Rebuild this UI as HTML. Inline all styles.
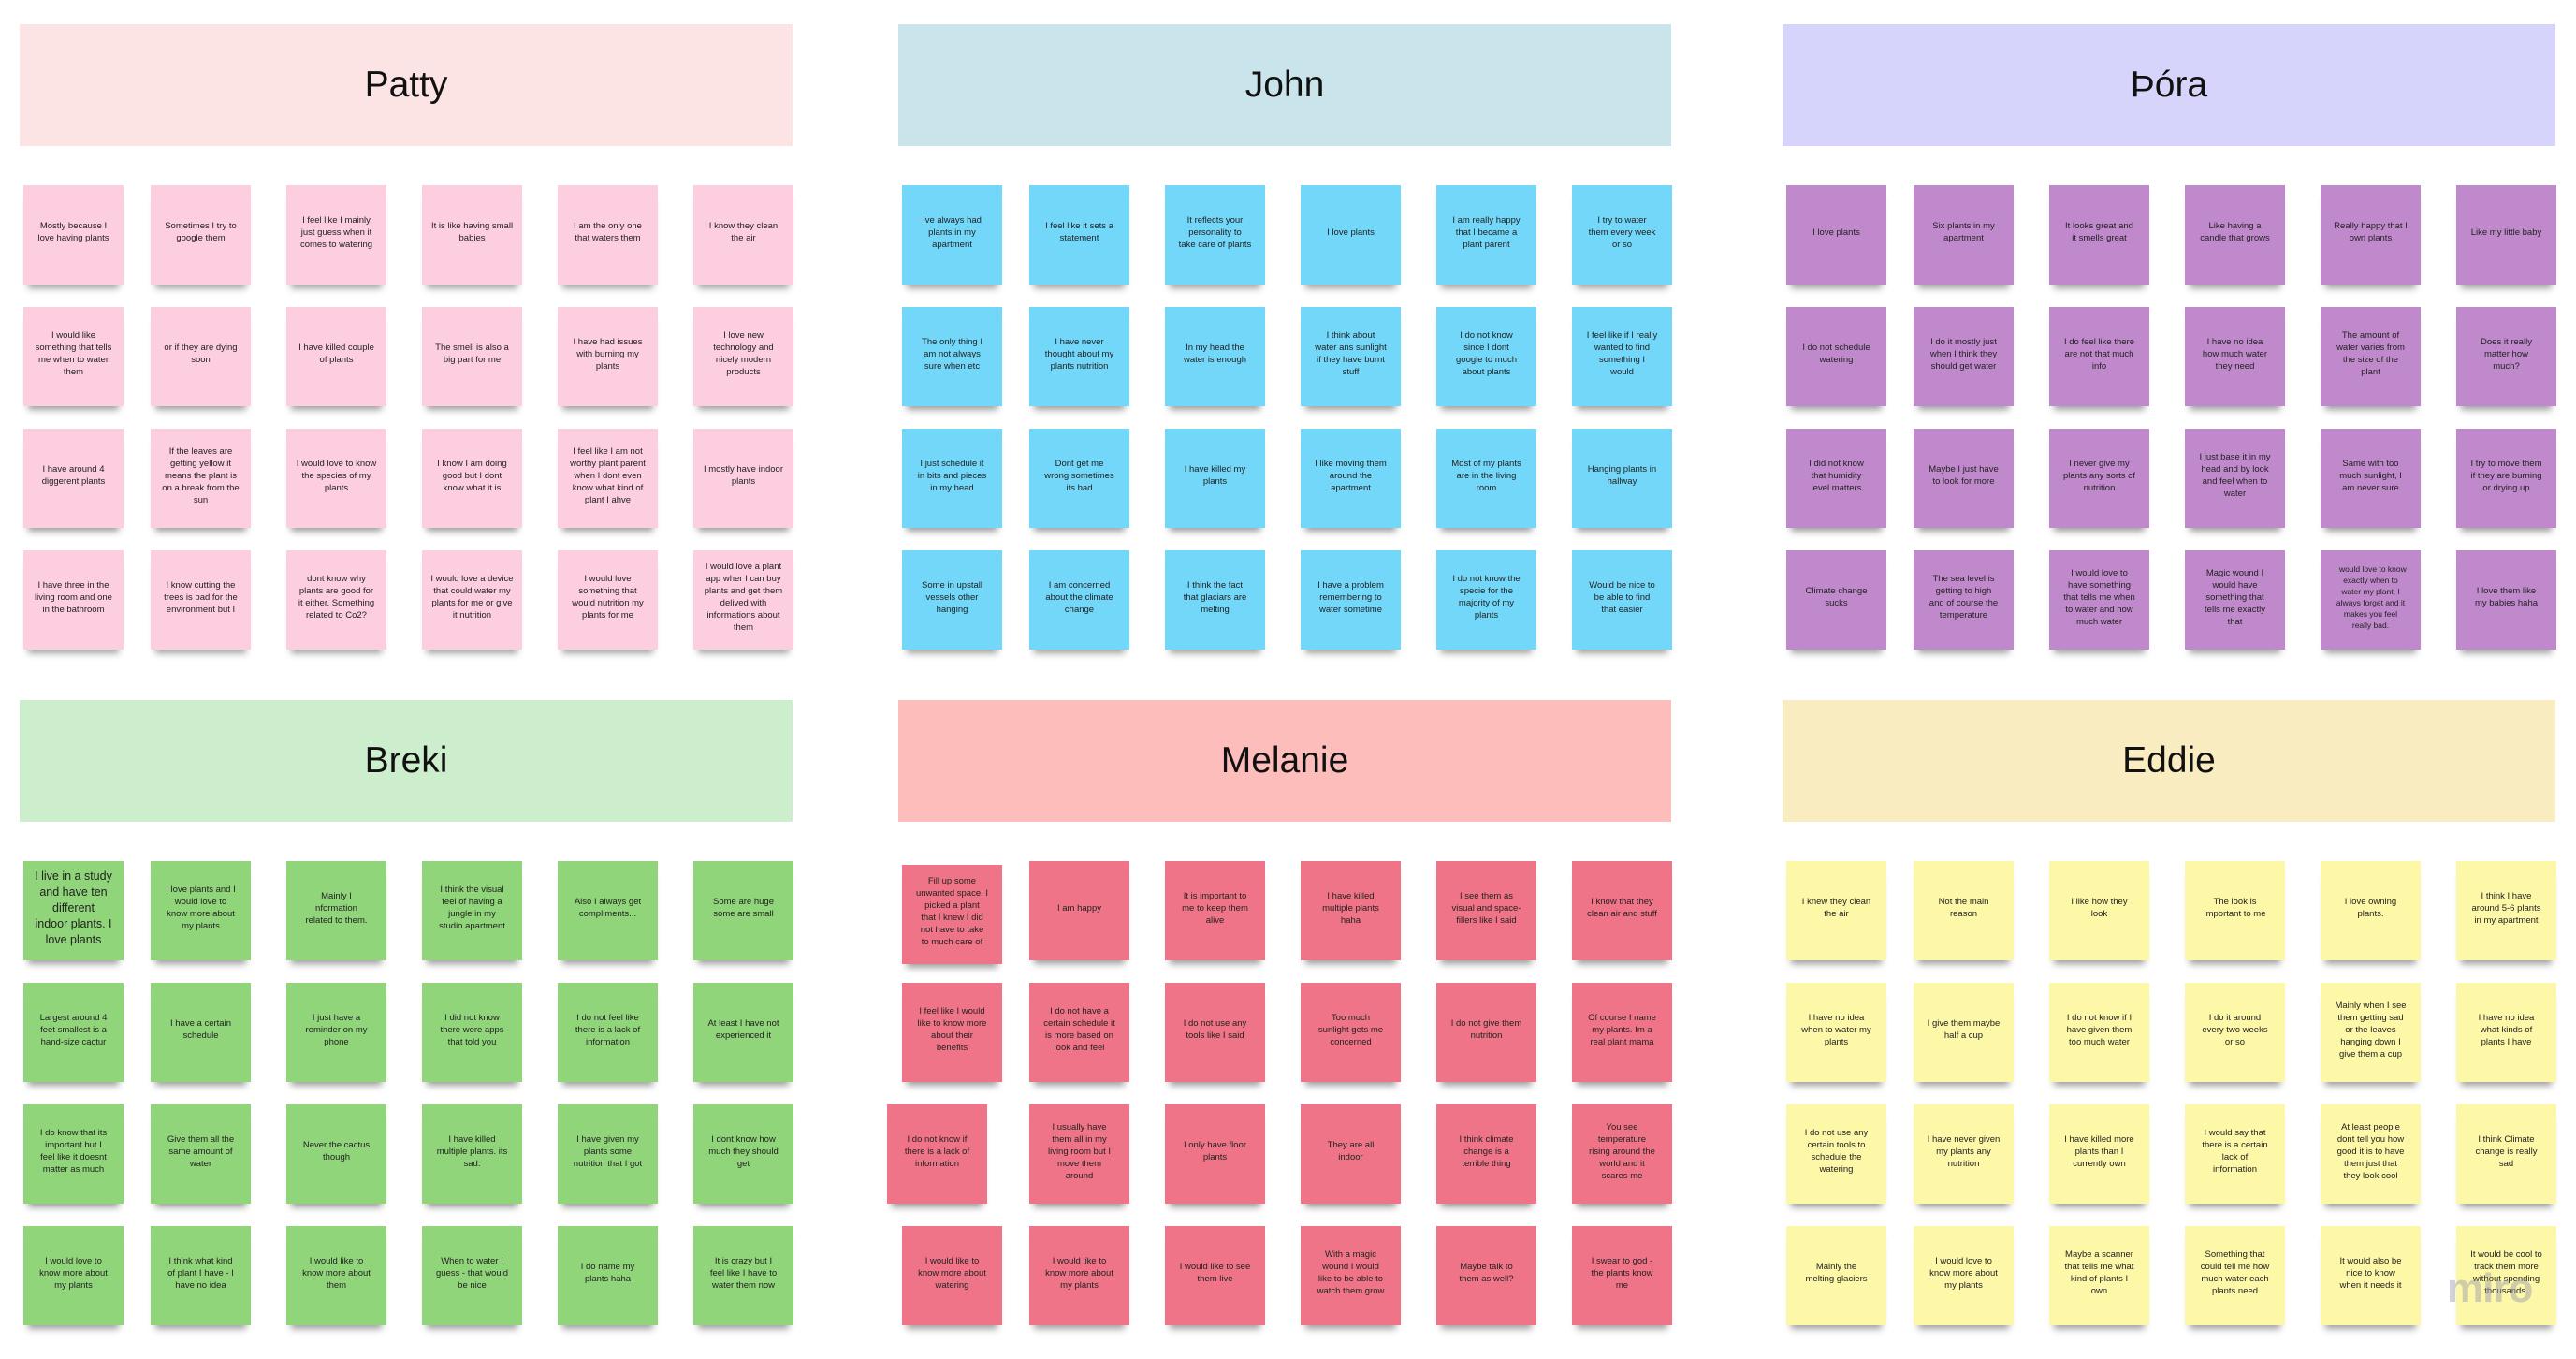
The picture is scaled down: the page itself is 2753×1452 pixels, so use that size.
<!DOCTYPE html>
<html><head><meta charset="utf-8">
<style>
*{margin:0;padding:0;box-sizing:border-box}
html,body{width:2753px;height:1452px;background:#fff;overflow:hidden;font-family:"Liberation Sans",sans-serif;color:#222}
.sec{position:absolute;width:826px;height:700px}
.h{position:absolute;left:0;top:0;width:826px;height:130px;display:flex;align-items:center;justify-content:center;font-size:39px;color:#111}
.g{position:absolute;left:0;top:172px;width:830px;height:520px}
.g>div{position:absolute;width:107px;height:106px;display:flex;align-items:center;justify-content:center;text-align:center;font-size:9.5px;line-height:13px;padding:0 4px 6px;box-shadow:0 9px 7px -5px rgba(0,0,0,.38)}
.g>div:nth-child(6n+1){left:4px}.g>div:nth-child(6n+2){left:140px}.g>div:nth-child(6n+3){left:285px}
.g>div:nth-child(6n+4){left:430px}.g>div:nth-child(6n+5){left:575px}.g>div:nth-child(6n+6){left:720px}
.g>div{top:0}.g>div:nth-child(n+7){top:130px}.g>div:nth-child(n+13){top:260px}.g>div:nth-child(n+19){top:390px}
.pa .h{background:#fde4e4}.pa .g>div{background:#fdcde0}
.jo .h{background:#c9e5eb}.jo .g>div{background:#72d7f9}
.th .h{background:#d7d4fc}.th .g>div{background:#c089cc}
.br .h{background:#cdeecd}.br .g>div{background:#90d57a}
.me .h{background:#fdbdbb}.me .g>div{background:#f07487}
.ed .h{background:#f8ecc0}.ed .g>div{background:#fdf7a8}
.miro{position:absolute;left:2615px;top:1352px;font-size:44px;font-weight:bold;color:rgba(150,150,170,.45);letter-spacing:-1px}
</style></head><body>

<div class="sec pa" style="left:21px;top:26px">
<div class="h">Patty</div>
<div class="g">
<div>Mostly because I<br>love having plants</div>
<div>Sometimes I try to<br>google them</div>
<div>I feel like I mainly<br>just guess when it<br>comes to watering</div>
<div>It is like having small<br>babies</div>
<div>I am the only one<br>that waters them</div>
<div>I know they clean<br>the air</div>
<div>I would like<br>something that tells<br>me when to water<br>them</div>
<div>or if they are dying<br>soon</div>
<div>I have killed couple<br>of plants</div>
<div>The smell is also a<br>big part for me</div>
<div>I have had issues<br>with burning my<br>plants</div>
<div>I love new<br>technology and<br>nicely modern<br>products</div>
<div>I have around 4<br>diggerent plants</div>
<div>If the leaves are<br>getting yellow it<br>means the plant is<br>on a break from the<br>sun</div>
<div>I would love to know<br>the species of my<br>plants</div>
<div>I know I am doing<br>good but I dont<br>know what it is</div>
<div>I feel like I am not<br>worthy plant parent<br>when I dont even<br>know what kind of<br>plant I ahve</div>
<div>I mostly have indoor<br>plants</div>
<div>I have three in the<br>living room and one<br>in the bathroom</div>
<div>I know cutting the<br>trees is bad for the<br>environment but I</div>
<div>dont know why<br>plants are good for<br>it either. Something<br>related to Co2?</div>
<div>I would love a device<br>that could water my<br>plants for me or give<br>it nutrition</div>
<div>I would love<br>something that<br>would nutrition my<br>plants for me</div>
<div>I would love a plant<br>app wher I can buy<br>plants and get them<br>delived with<br>informations about<br>them</div>
</div></div>

<div class="sec jo" style="left:960px;top:26px">
<div class="h">John</div>
<div class="g">
<div>Ive always had<br>plants in my<br>apartment</div>
<div>I feel like it sets a<br>statement</div>
<div>It reflects your<br>personality to<br>take care of plants</div>
<div>I love plants</div>
<div>I am really happy<br>that I became a<br>plant parent</div>
<div>I try to water<br>them every week<br>or so</div>
<div>The only thing I<br>am not always<br>sure when etc</div>
<div>I have never<br>thought about my<br>plants nutrition</div>
<div>In my head the<br>water is enough</div>
<div>I think about<br>water ans sunlight<br>if they have burnt<br>stuff</div>
<div>I do not know<br>since I dont<br>google to much<br>about plants</div>
<div>I feel like if I really<br>wanted to find<br>something I<br>would</div>
<div>I just schedule it<br>in bits and pieces<br>in my head</div>
<div>Dont get me<br>wrong sometimes<br>its bad</div>
<div>I have killed my<br>plants</div>
<div>I like moving them<br>around the<br>apartment</div>
<div>Most of my plants<br>are in the living<br>room</div>
<div>Hanging plants in<br>hallway</div>
<div>Some in upstall<br>vessels other<br>hanging</div>
<div>I am concerned<br>about the climate<br>change</div>
<div>I think the fact<br>that glaciars are<br>melting</div>
<div>I have a problem<br>remembering to<br>water sometime</div>
<div>I do not know the<br>specie for the<br>majority of my<br>plants</div>
<div>Would be nice to<br>be able to find<br>that easier</div>
</div></div>

<div class="sec th" style="left:1905px;top:26px">
<div class="h">Þóra</div>
<div class="g">
<div>I love plants</div>
<div>Six plants in my<br>apartment</div>
<div>It looks great and<br>it smells great</div>
<div>Like having a<br>candle that grows</div>
<div>Really happy that I<br>own plants</div>
<div>Like my little baby</div>
<div>I do not schedule<br>watering</div>
<div>I do it mostly just<br>when I think they<br>should get water</div>
<div>I do feel like there<br>are not that much<br>info</div>
<div>I have no idea<br>how much water<br>they need</div>
<div>The amount of<br>water varies from<br>the size of the<br>plant</div>
<div>Does it really<br>matter how<br>much?</div>
<div>I did not know<br>that humidity<br>level matters</div>
<div>Maybe I just have<br>to look for more</div>
<div>I never give my<br>plants any sorts of<br>nutrition</div>
<div>I just base it in my<br>head and by look<br>and feel when to<br>water</div>
<div>Same with too<br>much sunlight, I<br>am never sure</div>
<div>I try to move them<br>if they are burning<br>or drying up</div>
<div>Climate change<br>sucks</div>
<div>The sea level is<br>getting to high<br>and of course the<br>temperature</div>
<div>I would love to<br>have something<br>that tells me when<br>to water and how<br>much water</div>
<div>Magic wound I<br>would have<br>something that<br>tells me exactly<br>that</div>
<div style="font-size:8.5px;line-height:12px">I would love to know<br>exactly when to<br>water my plant, I<br>always forget and it<br>makes you feel<br>really bad.</div>
<div>I love them like<br>my babies haha</div>
</div></div>

<div class="sec br" style="left:21px;top:748px">
<div class="h">Breki</div>
<div class="g">
<div style="font-size:12.5px;line-height:17px">I live in a study<br>and have ten<br>different<br>indoor plants. I<br>love plants</div>
<div>I love plants and I<br>would love to<br>know more about<br>my plants</div>
<div>Mainly I<br>nformation<br>related to them.</div>
<div>I think the visual<br>feel of having a<br>jungle in my<br>studio apartment</div>
<div>Also I always get<br>compliments...</div>
<div>Some are huge<br>some are small</div>
<div>Largest around 4<br>feet smallest is a<br>hand-size cactur</div>
<div>I have a certain<br>schedule</div>
<div>I just have a<br>reminder on my<br>phone</div>
<div>I did not know<br>there were apps<br>that told you</div>
<div>I do not feel like<br>there is a lack of<br>information</div>
<div>At least I have not<br>experienced it</div>
<div>I do know that its<br>important but I<br>feel like it doesnt<br>matter as much</div>
<div>Give them all the<br>same amount of<br>water</div>
<div>Never the cactus<br>though</div>
<div>I have killed<br>multiple plants. its<br>sad.</div>
<div>I have given my<br>plants some<br>nutrition that I got</div>
<div>I dont know how<br>much they should<br>get</div>
<div>I would love to<br>know more about<br>my plants</div>
<div>I think what kind<br>of plant I have - I<br>have no idea</div>
<div>I would like to<br>know more about<br>them</div>
<div>When to water I<br>guess - that would<br>be nice</div>
<div>I do name my<br>plants haha</div>
<div>It is crazy but I<br>feel like I have to<br>water them now</div>
</div></div>

<div class="sec me" style="left:960px;top:748px">
<div class="h">Melanie</div>
<div class="g">
<div style="top:4px">Fill up some<br>unwanted space, I<br>picked a plant<br>that I knew I did<br>not have to take<br>to much care of</div>
<div>I am happy</div>
<div>It is important to<br>me to keep them<br>alive</div>
<div>I have killed<br>multiple plants<br>haha</div>
<div>I see them as<br>visual and space-<br>fillers like I said</div>
<div>I know that they<br>clean air and stuff</div>
<div>I feel like I would<br>like to know more<br>about their<br>benefits</div>
<div>I do not have a<br>certain schedule it<br>is more based on<br>look and feel</div>
<div>I do not use any<br>tools like I said</div>
<div>Too much<br>sunlight gets me<br>concerned</div>
<div>I do not give them<br>nutrition</div>
<div>Of course I name<br>my plants. Im a<br>real plant mama</div>
<div style="left:-12px">I do not know if<br>there is a lack of<br>information</div>
<div>I usually have<br>them all in my<br>living room but I<br>move them<br>around</div>
<div>I only have floor<br>plants</div>
<div>They are all<br>indoor</div>
<div>I think climate<br>change is a<br>terrible thing</div>
<div>You see<br>temperature<br>rising around the<br>world and it<br>scares me</div>
<div>I would like to<br>know more about<br>watering</div>
<div>I would like to<br>know more about<br>my plants</div>
<div>I would like to see<br>them live</div>
<div>With a magic<br>wound I would<br>like to be able to<br>watch them grow</div>
<div>Maybe talk to<br>them as well?</div>
<div>I swear to god -<br>the plants know<br>me</div>
</div></div>

<div class="sec ed" style="left:1905px;top:748px">
<div class="h">Eddie</div>
<div class="g">
<div>I knew they clean<br>the air</div>
<div>Not the main<br>reason</div>
<div>I like how they<br>look</div>
<div>The look is<br>important to me</div>
<div>I love owning<br>plants.</div>
<div>I think I have<br>around 5-6 plants<br>in my apartment</div>
<div>I have no idea<br>when to water my<br>plants</div>
<div>I give them maybe<br>half a cup</div>
<div>I do not know if I<br>have given them<br>too much water</div>
<div>I do it around<br>every two weeks<br>or so</div>
<div>Mainly when I see<br>them getting sad<br>or the leaves<br>hanging down I<br>give them a cup</div>
<div>I have no idea<br>what kinds of<br>plants I have</div>
<div>I do not use any<br>certain tools to<br>schedule the<br>watering</div>
<div>I have never given<br>my plants any<br>nutrition</div>
<div>I have killed more<br>plants than I<br>currently own</div>
<div>I would say that<br>there is a certain<br>lack of<br>information</div>
<div>At least people<br>dont tell you how<br>good it is to have<br>them just that<br>they look cool</div>
<div>I think Climate<br>change is really<br>sad</div>
<div>Mainly the<br>melting glaciers</div>
<div>I would love to<br>know more about<br>my plants</div>
<div>Maybe a scanner<br>that tells me what<br>kind of plants I<br>own</div>
<div>Something that<br>could tell me how<br>much water each<br>plants need</div>
<div>It would also be<br>nice to know<br>when it needs it</div>
<div>It would be cool to<br>track them more<br>without spending<br>thousands.</div>
</div></div>

<div class="miro">miro</div>
</body></html>
